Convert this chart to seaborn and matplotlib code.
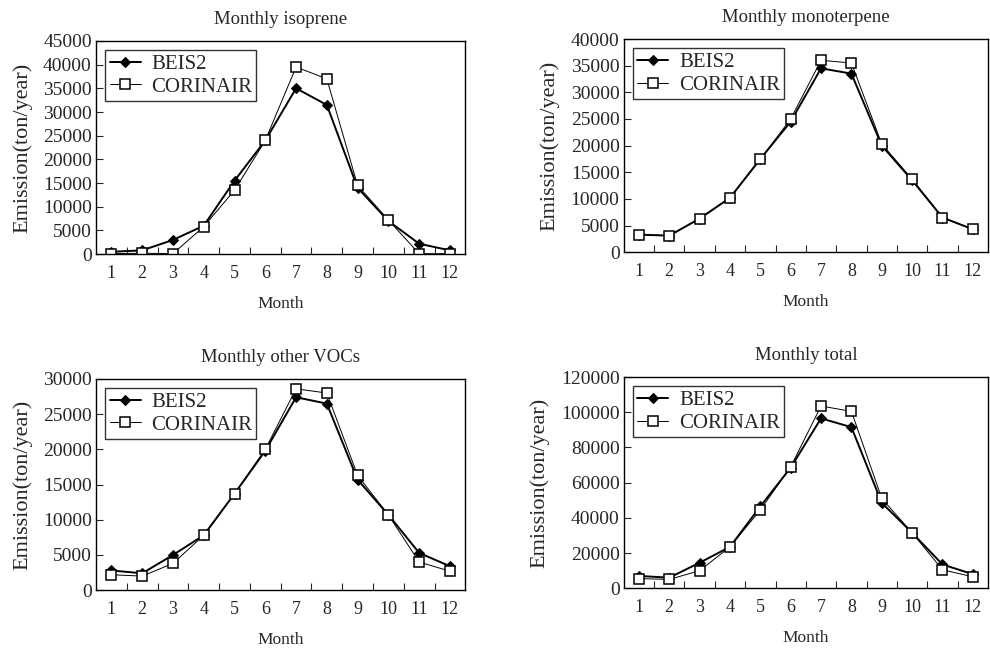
import pandas as pd
import matplotlib
matplotlib.use('Agg')
import matplotlib.pyplot as plt
import seaborn as sns
from matplotlib.ticker import FixedLocator

months = ['1', '2', '3', '4', '5', '6', '7', '8', '9', '10', '11', '12']

isoprene_beis2 = [500, 800, 3000, 6000, 15500, 24000, 35000, 31500, 14000, 7000, 2200, 800]
isoprene_corinair = [100, 200, 100, 5800, 13500, 24000, 39500, 37000, 14500, 7200, 100, 100]

mono_beis2 = [3300, 3100, 6300, 10200, 17500, 24500, 34500, 33500, 20000, 13500, 6500, 4300]
mono_corinair = [3300, 3100, 6300, 10200, 17400, 25000, 36000, 35500, 20300, 13700, 6500, 4300]

other_beis2 = [2800, 2400, 5000, 7800, 13700, 19800, 27400, 26500, 15700, 10700, 5300, 3400]
other_corinair = [2200, 2000, 3800, 7800, 13700, 20000, 28600, 28000, 16300, 10700, 4000, 2700]

total_beis2 = [7000, 6000, 14500, 23500, 46500, 68500, 96500, 91500, 48500, 31500, 13500, 8000]
total_corinair = [5500, 5000, 10000, 23500, 44500, 69000, 103500, 100500, 51000, 31500, 10500, 6500]

titles = ['Monthly isoprene', 'Monthly monoterpene', 'Monthly other VOCs', 'Monthly total']
y_max = [45000, 40000, 30000, 120000]
y_step = [5000, 5000, 5000, 20000]

panels = [(isoprene_beis2, isoprene_corinair), (mono_beis2, mono_corinair),
          (other_beis2, other_corinair), (total_beis2, total_corinair)]

sns.set_style('ticks')
plt.rcParams['font.family'] = ['Liberation Serif', 'DejaVu Serif']

fig = plt.figure(figsize=(9.9, 6.5), dpi=100)
boxes = [[0.097, 0.609, 0.373, 0.328],
         [0.630, 0.612, 0.368, 0.328],
         [0.097, 0.092, 0.373, 0.325],
         [0.630, 0.095, 0.368, 0.325]]

for i, (beis, cor) in enumerate(panels):
    ax = fig.add_axes(boxes[i])
    df = pd.DataFrame({'Month': list(range(12)), 'BEIS2': beis, 'CORINAIR': cor})
    sns.lineplot(data=df, x='Month', y='BEIS2', ax=ax, color='black', lw=1.4,
                 marker='D', markersize=5.5, markerfacecolor='black',
                 markeredgecolor='black', label='BEIS2')
    sns.lineplot(data=df, x='Month', y='CORINAIR', ax=ax, color='black', lw=0.7,
                 marker='s', markersize=7.5, markerfacecolor='white',
                 markeredgecolor='black', markeredgewidth=1.1, label='CORINAIR')
    ax.set_xlim(-0.5, 11.5)
    ax.set_ylim(0, y_max[i])
    ax.set_yticks(range(0, y_max[i] + 1, y_step[i]))
    ax.set_xticks(range(12))
    ax.set_xticklabels(months)
    ax.xaxis.set_minor_locator(FixedLocator([k + 0.5 for k in range(11)]))
    ax.tick_params(axis='x', which='major', length=0, labelsize=13, pad=8)
    ax.tick_params(axis='x', which='minor', direction='in', length=5, width=0.8)
    ax.tick_params(axis='y', direction='in', length=5, width=0.8, labelsize=14, pad=3)
    for s in ax.spines.values():
        s.set_linewidth(1.0)
        s.set_color('black')
    ax.set_title(titles[i], fontsize=13.5, pad=12)
    ax.set_xlabel('Month', fontsize=12.5, labelpad=10)
    ax.set_ylabel('Emission(ton/year)', fontsize=16, labelpad=8)
    leg = ax.legend(loc='upper left', fontsize=15, frameon=True, fancybox=False,
                    edgecolor='black', borderpad=0.2, handlelength=1.5,
                    handletextpad=0.5, labelspacing=0.15, borderaxespad=0.45)
    leg.get_frame().set_linewidth(1.0)

plt.savefig('out.png', dpi=100)
